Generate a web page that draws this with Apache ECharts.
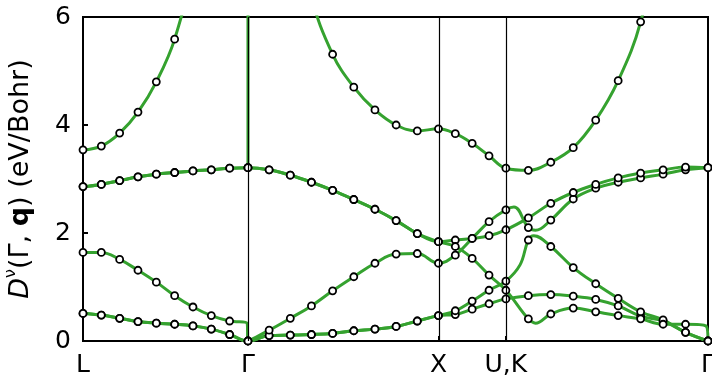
<!DOCTYPE html>
<html>
<head>
<meta charset="utf-8">
<script src="https://cdn.jsdelivr.net/npm/echarts@6/dist/echarts.min.js"></script>
<style>
  html, body { margin: 0; padding: 0; background: #fff; }
  #chart { width: 712px; height: 378px; }
</style>
</head>
<body>
<div id="chart"></div>
<script>
// fcc Brillouin-zone path: L - Γ - X - U|K - Γ
const pathLabels = ['L', 'Γ', 'X', 'U,K', 'Γ'];
const segmentLengths = [0.866, 1.0, 0.354, 1.061];   // in units of 2π/a
const segmentSteps = [9, 9, 4, 9];                    // computed q-points per segment

// D^ν(Γ,q) in eV/Bohr at the computed q-points, one array per mode
const modeTA1 = [0.51, 0.48, 0.42, 0.36, 0.33, 0.31, 0.28, 0.22, 0.12, 0,
                 0.10, 0.11, 0.12, 0.14, 0.19, 0.22, 0.27, 0.37, 0.47,
                 0.49, 0.59, 0.69, 0.78,
                 0.84, 0.86, 0.83, 0.77, 0.65, 0.46, 0.37, 0.16, 0];
const modeTA2 = [0.51, 0.48, 0.42, 0.36, 0.33, 0.31, 0.28, 0.22, 0.12, 0,
                 0.10, 0.11, 0.12, 0.14, 0.19, 0.22, 0.27, 0.37, 0.47,
                 0.56, 0.74, 0.94, 1.11,
                 1.87, 1.75, 1.36, 1.06, 0.79, 0.54, 0.39, 0.16, 0];
const modeLA  = [1.64, 1.64, 1.51, 1.31, 1.09, 0.84, 0.63, 0.47, 0.37, 0,
                 0.20, 0.42, 0.65, 0.93, 1.19, 1.44, 1.61, 1.62, 1.44,
                 1.59, 1.90, 2.21, 2.43,
                 2.10, 2.24, 2.63, 2.83, 2.94, 3.02, 3.09, 3.17, 3.21];
const modeTO1 = [2.86, 2.90, 2.97, 3.04, 3.09, 3.12, 3.15, 3.17, 3.20, 3.21,
                 3.17, 3.07, 2.94, 2.79, 2.62, 2.44, 2.23, 1.99, 1.84,
                 1.87, 1.90, 1.95, 2.06,
                 2.28, 2.55, 2.75, 2.90, 3.02, 3.11, 3.17, 3.22, 3.21];
const modeTO2 = [2.86, 2.90, 2.97, 3.04, 3.09, 3.12, 3.15, 3.17, 3.20, 3.21,
                 3.17, 3.07, 2.94, 2.79, 2.62, 2.44, 2.23, 1.99, 1.84,
                 1.75, 1.53, 1.22, 0.94,
                 0.41, 0.50, 0.61, 0.54, 0.47, 0.41, 0.31, 0.31, 0];
const modeLO  = [3.54, 3.61, 3.85, 4.24, 4.80, 5.59, 7.0, 9.7, 17.8, 3.21,
                 14.4, 8.44, 6.38, 5.31, 4.70, 4.28, 4.00, 3.89, 3.93,
                 3.84, 3.66, 3.43, 3.20,
                 3.16, 3.31, 3.58, 4.09, 4.82, 5.91, 7.9, 13.7, null];

// Additional points on the interpolated curves: [segment, fraction along it, D]
// (a null D breaks the curve there)
const curveTA1 = [];
const curveTA2 = [[3, 0.07, 1.41], [3, 0.138, 1.95]];
const curveLA  = [[0, 0.995, 0.33], [3, 0.04, 2.48], [3, 0.147, 2.05]];
const curveTO1 = [];
const curveTO2 = [[3, 0.147, 0.33], [3, 0.99, 0.28]];
const curveLO  = [[0, 1.0, 60], [0, 1.0, null]];

const modes = [
  { values: modeTA1, curve: curveTA1 },
  { values: modeTA2, curve: curveTA2 },
  { values: modeLA,  curve: curveLA  },
  { values: modeTO1, curve: curveTO1 },
  { values: modeTO2, curve: curveTO2 },
  { values: modeLO,  curve: curveLO  }
];

// path coordinates
const segmentStart = [0];
segmentLengths.forEach((len, i) => segmentStart.push(segmentStart[i] + len));
const pathEnd = segmentStart[segmentStart.length - 1];
const qGrid = [];
segmentSteps.forEach((n, s) => {
  for (let k = (s === 0 ? 0 : 1); k <= n; k++) {
    qGrid.push(segmentStart[s] + segmentLengths[s] * k / n);
  }
});

const GREEN = '#35a22f';
const FONT = 'DejaVu Sans';

function curveData(mode) {
  const pts = [];
  mode.values.forEach((v, i) => { if (v !== null) pts.push({ q: qGrid[i], v: v, k: 1 }); });
  mode.curve.forEach(([s, f, v]) => {
    pts.push({ q: segmentStart[s] + segmentLengths[s] * f, v: v, k: v === null ? 2 : 0 });
  });
  pts.sort((a, b) => (a.q - b.q) || (a.k - b.k));
  return pts.map(p => [p.q, p.v === null ? '-' : p.v]);
}

const series = [];
modes.forEach(mode => {
  series.push({
    type: 'line',
    data: curveData(mode),
    smooth: 0.4,
    showSymbol: false,
    connectNulls: false,
    clip: true,
    silent: true,
    z: 2,
    lineStyle: { color: GREEN, width: 3 }
  });
});

// high-symmetry guide lines
series.push({
  type: 'line',
  data: [],
  z: 3,
  silent: true,
  markLine: {
    silent: true,
    symbol: 'none',
    label: { show: false },
    lineStyle: { color: '#000', width: 1.2, type: 'solid' },
    data: segmentStart.slice(1, -1).map(q => ({ xAxis: q }))
  }
});

// computed q-points
const markerPoints = [];
modes.forEach(mode => mode.values.forEach((v, i) => {
  if (v !== null) markerPoints.push([qGrid[i], v]);
}));
series.push({
  type: 'scatter',
  data: markerPoints,
  symbol: 'circle',
  symbolSize: 7,
  clip: true,
  silent: true,
  z: 4,
  itemStyle: { color: '#fff', borderColor: '#000', borderWidth: 1.8, opacity: 1 }
});

const chart = echarts.init(document.getElementById('chart'), null, { renderer: 'canvas' });
chart.setOption({
  animation: false,
  backgroundColor: '#fff',
  grid: {
    left: 83, right: 4, top: 17, bottom: 37,
    show: true, borderColor: '#000', borderWidth: 2, backgroundColor: 'transparent',
    containLabel: false, outerBoundsMode: 'none'
  },
  xAxis: {
    type: 'value',
    min: 0,
    max: pathEnd,
    axisLine: { show: false },
    splitLine: { show: false },
    axisTick: {
      show: true, inside: true, length: 5,
      customValues: segmentStart,
      lineStyle: { color: '#000', width: 2 }
    },
    axisLabel: {
      show: true,
      customValues: segmentStart,
      margin: 12,
      fontFamily: FONT, fontSize: 25, color: '#000',
      formatter: v => {
        let best = 0;
        segmentStart.forEach((q, i) => { if (Math.abs(q - v) < Math.abs(segmentStart[best] - v)) best = i; });
        return pathLabels[best];
      }
    }
  },
  yAxis: {
    type: 'value',
    min: 0, max: 6, interval: 2,
    axisLine: { show: false },
    splitLine: { show: false },
    axisTick: { show: true, inside: true, length: 5, lineStyle: { color: '#000', width: 2 } },
    axisLabel: { margin: 12, padding: [4, 0, 0, 0], fontFamily: FONT, fontSize: 25, color: '#000' },
    name: '{i|D}{s|ν}{n|(Γ, }{b|q}{n|) (eV/Bohr)}',
    nameLocation: 'middle',
    nameGap: 49,
    nameTextStyle: {
      fontFamily: FONT, fontSize: 27, color: '#000',
      rich: {
        i: { fontFamily: FONT, fontSize: 27, lineHeight: 30, fontStyle: 'italic', color: '#000', verticalAlign: 'bottom' },
        s: { fontFamily: FONT, fontSize: 16, lineHeight: 16, color: '#000', verticalAlign: 'bottom', padding: [0, 0, 15, 0] },
        n: { fontFamily: FONT, fontSize: 27, lineHeight: 30, color: '#000', verticalAlign: 'bottom' },
        b: { fontFamily: FONT, fontSize: 27, lineHeight: 30, fontWeight: 'bold', color: '#000', verticalAlign: 'bottom' }
      }
    }
  },
  series: series
});
</script>
</body>
</html>
